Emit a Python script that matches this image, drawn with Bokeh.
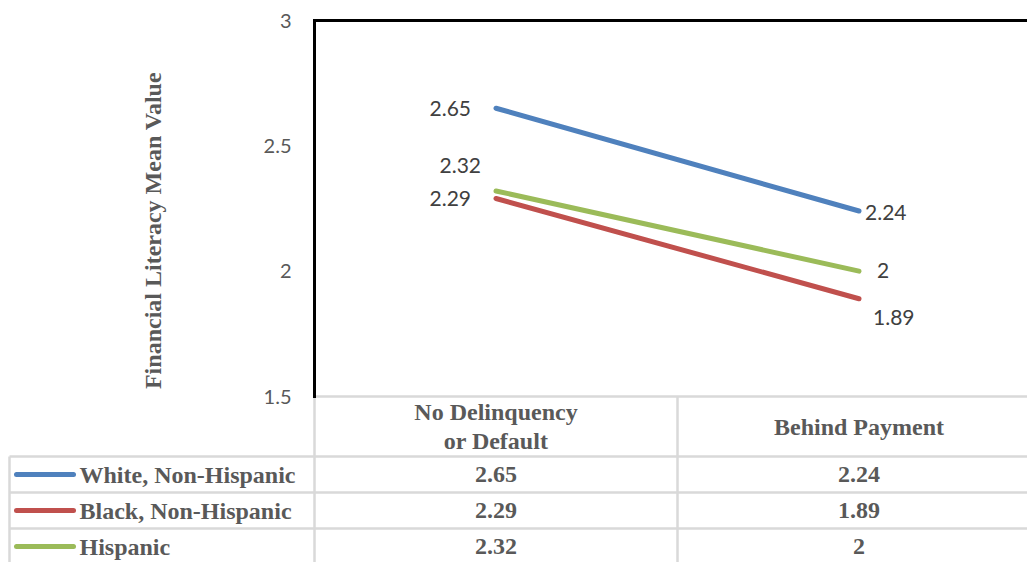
import numpy as np
from bokeh.plotting import figure
from bokeh.models import Range1d, LinearAxis, FixedTicker, ColumnDataSource, NumeralTickFormatter
from bokeh.core.properties import value
from bokeh.embed import file_html
from bokeh.resources import INLINE

# ---------------- data ----------------
categories = ["No Delinquency\nor Default", "Behind Payment"]
series_names = ["White, Non-Hispanic", "Black, Non-Hispanic", "Hispanic"]
white = [2.65, 2.24]
black = [2.29, 1.89]
hispanic = [2.32, 2.0]
y_ticks = [1.5, 2, 2.5, 3]
y_title = "Financial Literacy Mean Value"

series_values = [white, black, hispanic]
colors = ["#4F81BD", "#C0504D", "#9BBB59"]

# label placement (screen px offsets, per series / per category)
label_align = [["right", "left"], ["right", "left"], ["right", "left"]]
label_dx = [[-25, 6], [-25, 14], [-15, 18]]
label_dy = [[0, 1], [0, 19], [-25, -1]]

# ---------------- layout ----------------
W, H = 1027, 562
PX_UNIT = 376 / 1.5          # px per value unit
COL_W = 363                  # px per table column
PLOT_LEFT, PLOT_TOP = 314, 20  # inside the figure (px)
ROW_H = 36
ROW0 = 474                   # px (figure) center of first table row

x0 = -PLOT_LEFT / COL_W
x1 = (W - PLOT_LEFT) / COL_W
y_top = 3 + PLOT_TOP / PX_UNIT
y_bot = 3 - (H - PLOT_TOP) / PX_UNIT
r_top = (0 - ROW0) / ROW_H
r_bot = (H - ROW0) / ROW_H
HEADER_TOP = (396 - ROW0) / ROW_H
TABLE_LEFT = (9 - PLOT_LEFT) / COL_W

SANS = value("Lato")
SERIF = value("Liberation Serif")
GRAY = "#595959"
GRID = "#D9D9D9"

p = figure(width=W, height=H, x_range=Range1d(x0, x1), y_range=Range1d(y_bot, y_top),
           output_backend="svg", toolbar_location=None, x_axis_location=None,
           y_axis_location=None, min_border=0, outline_line_color=None)
p.extra_y_ranges = {"tbl": Range1d(start=r_bot, end=r_top)}
p.background_fill_color = "white"
p.border_fill_color = "white"
p.grid.visible = False
for g in p.renderers:
    pass

ncat = len(categories)
xs = [i + 0.5 for i in range(ncat)]

# ---------------- table grid ----------------
gx, gy = [], []
gx.append([0, ncat]); gy.append([HEADER_TOP, HEADER_TOP])
for k in range(len(series_names)):
    b = k - 0.5
    gx.append([TABLE_LEFT, ncat]); gy.append([b, b])
gx.append([TABLE_LEFT, TABLE_LEFT]); gy.append([-0.5, len(series_names) - 0.5])
for c in range(ncat + 1):
    gx.append([c, c]); gy.append([HEADER_TOP, len(series_names) - 0.5])
p.multi_line(xs=gx, ys=gy, line_color=GRID, line_width=2.5, y_range_name="tbl")

# header text
p.text(x=xs, y=[(HEADER_TOP - 0.5) / 2] * ncat, text=categories, text_align="center",
       text_baseline="middle", text_font=SERIF, text_font_style="bold",
       text_font_size="24px", text_color=GRAY, text_line_height=1.12, y_range_name="tbl")

# rows: legend key + name + values
rows = list(range(len(series_names)))
p.segment(x0=[TABLE_LEFT + 7 / COL_W] * len(rows), x1=[TABLE_LEFT + 64 / COL_W] * len(rows),
          y0=rows, y1=rows, line_color=colors, line_width=5, line_cap="round", y_range_name="tbl")
p.text(x=[TABLE_LEFT + 70 / COL_W] * len(rows), y=rows, text=series_names, text_align="left",
       text_baseline="middle", text_font=SERIF, text_font_style="bold", text_font_size="24px",
       text_color=GRAY, y_range_name="tbl")
vx, vy, vt = [], [], []
for k, vals in enumerate(series_values):
    for i, v in enumerate(vals):
        vx.append(xs[i]); vy.append(k); vt.append(f"{v:g}")
p.text(x=vx, y=vy, text=vt, text_align="center", text_baseline="middle", text_font=SERIF,
       text_font_style="bold", text_font_size="24px", text_color=GRAY, y_range_name="tbl")

# ---------------- lines ----------------
for k, vals in enumerate(series_values):
    p.line(x=xs, y=vals, line_color=colors[k], line_width=5, line_cap="round")

lx, ly, lt, la, ldx, ldy = [], [], [], [], [], []
for k, vals in enumerate(series_values):
    for i, v in enumerate(vals):
        lx.append(xs[i]); ly.append(v); lt.append(f"{v:g}")
        la.append(label_align[k][i]); ldx.append(label_dx[k][i]); ldy.append(label_dy[k][i])
src = ColumnDataSource(dict(x=lx, y=ly, t=lt, a=la, dx=ldx, dy=ldy))
p.text(x="x", y="y", text="t", text_align="a", x_offset="dx", y_offset="dy", source=src,
       text_baseline="middle", text_font=SANS, text_font_size="21px", text_color="#404040")

# y title
p.text(x=[(-PLOT_LEFT + 152) / COL_W], y=[3 - 210 / PX_UNIT], text=[y_title], angle=np.pi / 2,
       text_align="center", text_baseline="middle", text_font=SERIF, text_font_style="bold",
       text_font_size="24px", text_color=GRAY)

# ---------------- axes (plot-area border) ----------------
yaxis = LinearAxis(fixed_location=0, bounds=(1.5, 3), ticker=FixedTicker(ticks=y_ticks),
                   formatter=NumeralTickFormatter(format="0.[0]"),
                   axis_line_color="black", axis_line_width=3, axis_line_cap="square",
                   major_tick_line_color=None, minor_tick_line_color=None,
                   major_tick_in=0, major_tick_out=0, major_label_standoff=23,
                   major_label_text_font="Lato",
                   major_label_text_font_size="20px", major_label_text_color=GRAY)
p.add_layout(yaxis, "left")
topaxis = LinearAxis(fixed_location=3, bounds=(0, x1 + 1), ticker=FixedTicker(ticks=[]),
                     axis_line_color="black", axis_line_width=3, axis_line_cap="square",
                     major_tick_line_color=None, minor_tick_line_color=None,
                     major_tick_in=0, major_tick_out=0, major_label_text_font_size="0px")
p.add_layout(topaxis, "above")
for ax in (yaxis, topaxis):
    pass
p.xgrid.visible = False
p.ygrid.visible = False
for r in p.center:
    r.visible = False

open("out.html", "w").write(file_html(p, INLINE))
